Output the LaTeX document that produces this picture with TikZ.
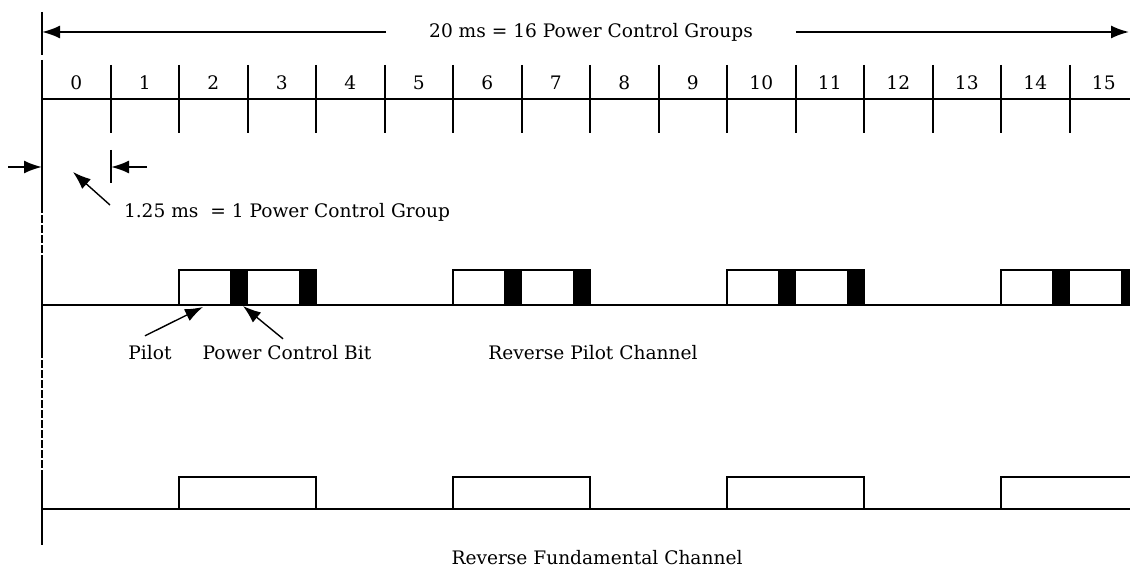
\documentclass[tikz,border=0pt]{standalone}
\usepackage{fontspec}
\setmainfont{DejaVu Serif}
\usetikzlibrary{arrows.meta}
\begin{document}
\begin{tikzpicture}[x=0.5pt,y=-0.5pt,line width=1pt,
    arr/.style={-{Latex[length=9pt,width=6.5pt]}},
    lbl/.style={font=\fontsize{9.3}{11}\selectfont,inner sep=0pt}]
    \def\sw{68.5}
    \useasboundingbox (0,0) rectangle (1130,567);
    \clip (0,0) rectangle (1130,567);

    \draw (42,12) -- (42,55);
    \draw (42,60) -- (42,205);
    \draw[dash pattern=on 4pt off 1pt] (42,205) -- (42,262);
    \draw (42,262) -- (42,350);
    \draw[dash pattern=on 4pt off 1pt] (42,350) -- (42,470);
    \draw (42,470) -- (42,545);

    \node[lbl,inner xsep=21pt] (ttl) at (591,32) {20 ms = 16 Power Control Groups};
    \coordinate (ta) at (42,32);
    \coordinate (tb) at (1129,32);
    \draw[arr] (ttl.west) -- (ta);
    \draw[arr] (ttl.east) -- (tb);

    \draw (42,99) -- (1130,99);
    \foreach \k in {1,...,15}
        \draw ({42+\k*\sw},65) -- ({42+\k*\sw},133);
    \foreach \k in {0,...,15}
        \node[lbl] (n\k) at ({42+(\k+0.5)*\sw},83) {\k};

    \coordinate (g0s) at (8,167);
    \coordinate (g0) at (42,167);
    \coordinate (g1s) at (147,167);
    \coordinate (g1) at (111,167);
    \draw[arr] (g0s) -- (g0);
    \draw[arr] (g1s) -- (g1);
    \draw (111,150) -- (111,183);
    \node[lbl,anchor=west] (pcg) at (123,212) {1.25 ms \ = 1 Power Control Group};
    \coordinate (pcgtip) at (73,172);
    \draw[arr,line width=0.7pt] ([shift={(-13,-7)}]pcg.west) -- (pcgtip);

    \draw (42,305) -- (1130,305);
    \foreach \g in {2,6,10,14} {
        \draw ({42+\g*\sw},305) rectangle ({42+(\g+2)*\sw},270);
        \foreach \b in {1,2}
            \fill ({42+(\g+\b)*\sw-\sw/4},305) rectangle ({42+(\g+\b)*\sw},270);
    }
    \node[lbl] (pil) at (150,353) {Pilot};
    \node[lbl] (pcb) at (287,353) {Power Control Bit};
    \node[lbl] (rpc) at (593,353) {Reverse Pilot Channel};
    \coordinate (piltip) at (203,307);
    \coordinate (pcbtip) at (243,306);
    \draw[arr,line width=0.7pt] ([shift={(-5,-9)}]pil.north) -- (piltip);
    \draw[arr,line width=0.7pt] ([shift={(-4,-6)}]pcb.north) -- (pcbtip);

    \draw (42,509) -- (1130,509);
    \foreach \g in {2,6,10,14}
        \draw ({42+\g*\sw},509) rectangle ({42+(\g+2)*\sw},477);
    \node[lbl] (rfc) at (597,558) {Reverse Fundamental Channel};
\end{tikzpicture}
\end{document}
